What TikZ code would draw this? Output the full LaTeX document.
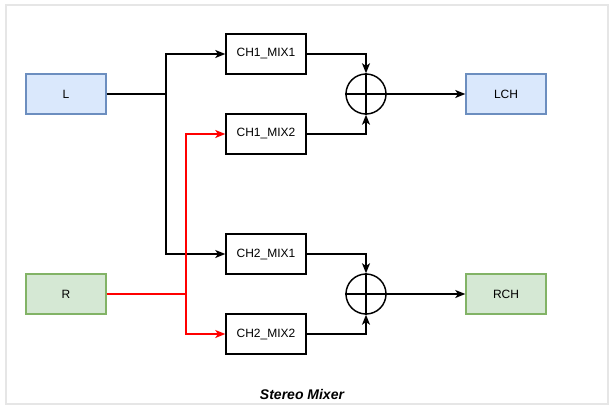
\documentclass[tikz,border=0pt]{standalone}
\usepackage{fontspec}
\setmainfont{Liberation Sans}
\usetikzlibrary{arrows.meta}
\definecolor{bluefill}{HTML}{DAE8FC}
\definecolor{bluedraw}{HTML}{6C8EBF}
\definecolor{greenfill}{HTML}{D5E8D4}
\definecolor{greendraw}{HTML}{82B366}
\definecolor{framegray}{HTML}{E6E6E6}
\tikzset{
  blk/.style={draw=black, line width=1.1pt, fill=white, minimum width=60pt, minimum height=30pt, inner sep=0pt, font=\fontsize{9pt}{10pt}\selectfont},
  bluebox/.style={blk, draw=bluedraw, fill=bluefill},
  greenbox/.style={blk, draw=greendraw, fill=greenfill},
  sumnode/.style={circle, draw=black, line width=1.1pt, minimum size=30pt, inner sep=0pt},
  wire/.style={line width=1.1pt, black},
  redwire/.style={line width=1.1pt, red},
  arr/.style={-{Stealth[length=7.5pt, width=6pt, inset=2pt]}},
}
\begin{document}
\begin{tikzpicture}[x=0.75pt, y=-0.75pt]
\useasboundingbox (0,0) rectangle (613,410);
\fill[white] (0,0) rectangle (613,410);
\draw[framegray, line width=1.5pt] (6,5) rectangle (608,404);

\node[bluebox] (L) at (66,94) {L};
\node[greenbox] (R) at (66,294) {R};
\node[blk] (m11) at (266,54) {CH1\_MIX1};
\node[blk] (m12) at (266,134) {CH1\_MIX2};
\node[blk] (m21) at (266,254) {CH2\_MIX1};
\node[blk] (m22) at (266,334) {CH2\_MIX2};
\node[sumnode] (s1) at (366,94) {};
\node[sumnode] (s2) at (366,294) {};
\node[bluebox] (LCH) at (506,94) {LCH};
\node[greenbox] (RCH) at (506,294) {RCH};

\coordinate (jl) at (166,94);
\coordinate (jr) at (186,294);

% sum crosses
\draw[wire] (s1.north) -- (s1.south);
\draw[wire] (s1.west) -- (s1.east);
\draw[wire] (s2.north) -- (s2.south);
\draw[wire] (s2.west) -- (s2.east);

% L distribution
\draw[wire] (L.east) -- (jl);
\draw[wire, arr] (jl) |- (m11.west);
\draw[wire, arr] (jl) |- (m21.west);

% R distribution
\draw[redwire] (R.east) -- (jr);
\draw[redwire, arr] (jr) |- (m12.west);
\draw[redwire, arr] (jr) |- (m22.west);

% into sums
\draw[wire, arr] (m11.east) -| (s1.north);
\draw[wire, arr] (m12.east) -| (s1.south);
\draw[wire, arr] (m21.east) -| (s2.north);
\draw[wire, arr] (m22.east) -| (s2.south);

% outputs
\draw[wire, arr] (s1.east) -- (LCH.west);
\draw[wire, arr] (s2.east) -- (RCH.west);

\node[font=\fontsize{10.5pt}{12pt}\selectfont\bfseries\itshape] (title) at (302,394) {Stereo Mixer};
\end{tikzpicture}
\end{document}
